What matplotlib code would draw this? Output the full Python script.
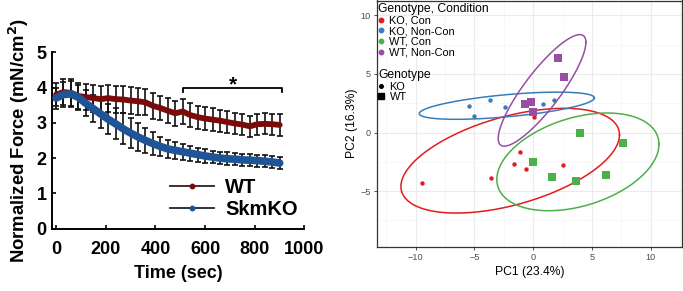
import numpy as np
import matplotlib
matplotlib.use("Agg")
import matplotlib.pyplot as plt
from matplotlib.lines import Line2D
from matplotlib.legend import Legend

# ---------------- Left panel data ----------------
time_sec = [0, 30, 60, 90, 120, 150, 180, 210, 240, 270, 300, 330, 360, 390, 420, 450,
            480, 510, 540, 570, 600, 630, 660, 690, 720, 750, 780, 810, 840, 870, 900]
wt_force = [3.80, 3.87, 3.85, 3.76, 3.73, 3.70, 3.67, 3.70, 3.67, 3.66, 3.63, 3.61, 3.58, 3.48,
            3.42, 3.34, 3.27, 3.32, 3.22, 3.16, 3.12, 3.09, 3.06, 3.02, 2.98, 2.95, 2.90, 2.96,
            2.97, 2.96, 2.94]
wt_err = [0.33, 0.36, 0.38, 0.38, 0.38, 0.38, 0.38, 0.38, 0.38, 0.38, 0.38, 0.38, 0.37, 0.36,
          0.35, 0.35, 0.35, 0.35, 0.34, 0.33, 0.32, 0.32, 0.31, 0.31, 0.30, 0.30, 0.30, 0.30,
          0.30, 0.30, 0.30]
ko_force = [3.70, 3.80, 3.82, 3.72, 3.55, 3.40, 3.25, 3.10, 2.97, 2.83, 2.71, 2.60, 2.50, 2.41,
            2.33, 2.26, 2.22, 2.18, 2.14, 2.10, 2.06, 2.03, 2.00, 1.98, 1.97, 1.95, 1.94, 1.93,
            1.91, 1.89, 1.86]
ko_err = [0.30, 0.35, 0.36, 0.36, 0.37, 0.38, 0.40, 0.42, 0.44, 0.44, 0.42, 0.40, 0.36, 0.32,
          0.28, 0.26, 0.24, 0.22, 0.21, 0.20, 0.19, 0.18, 0.18, 0.18, 0.17, 0.17, 0.17, 0.17,
          0.17, 0.17, 0.17]
sig_range = [512, 910]
sig_level = 4.0
series_labels = ["WT", "SkmKO"]
x_ticks_left = [0, 200, 400, 600, 800, 1000]
y_ticks_left = [0, 1, 2, 3, 4, 5]

# ---------------- Right panel data (PCA) ----------------
groups = ["KO, Con", "KO, Non-Con", "WT, Con", "WT, Non-Con"]
group_colors = ["#E41A1C", "#377EB8", "#4DAF4A", "#984EA3"]
ko_con_pc1 = [-9.5, -3.6, -1.6, -1.1, -0.6, 0.1, 2.5]
ko_con_pc2 = [-4.3, -3.9, -2.7, -1.7, -3.1, 1.3, -2.8]
ko_non_pc1 = [-5.5, -5.0, -3.7, -2.4, 0.8, 1.8]
ko_non_pc2 = [2.3, 1.4, 2.75, 2.2, 2.45, 2.75]
wt_con_pc1 = [0.0, 1.6, 3.6, 4.0, 6.2, 7.6]
wt_con_pc2 = [-2.5, -3.8, -4.1, 0.0, -3.6, -0.9]
wt_non_pc1 = [-0.7, -0.2, 0.0, 2.1, 2.6]
wt_non_pc2 = [2.4, 2.6, 1.75, 6.4, 4.7]
# 95% ellipse summaries: centre, half-extent in x / y,
# and y-offset of the right-most point from the centre (sets the tilt)
ell_cx = [-1.96, -2.25, 3.80, 0.75]
ell_cy = [-2.40, 2.29, -2.50, 3.60]
ell_hx = [9.30, 7.45, 6.90, 3.73]
ell_hy = [4.47, 1.16, 4.17, 4.76]
ell_dy = [2.20, 0.67, 1.50, 4.10]

plt.rcParams['font.family'] = ['Liberation Sans', 'DejaVu Sans']

fig = plt.figure(figsize=(6.83, 2.91), dpi=100)

# ================= Left panel =================
ax1 = fig.add_axes([52.3 / 683, 1 - 228.7 / 291, (304.5 - 52.3) / 683, (228.7 - 52.2) / 291])
wt_col = "#7B0A0A"
ko_col = "#1F5596"
ax1.errorbar(time_sec, wt_force, yerr=wt_err, fmt='none', ecolor='#111111', elinewidth=1.2,
             capsize=2.4, capthick=1.2, zorder=2)
ax1.errorbar(time_sec, ko_force, yerr=ko_err, fmt='none', ecolor='#111111', elinewidth=1.2,
             capsize=2.4, capthick=1.2, zorder=2)
ax1.plot(time_sec, wt_force, color=wt_col, lw=4.2, solid_capstyle='round', zorder=3)
ax1.plot(time_sec, ko_force, color=ko_col, lw=5.5, solid_capstyle='round', zorder=4)

h1 = Line2D([], [], color='#3a1a1a', lw=1.3, marker='o', markersize=3.2,
            markerfacecolor=wt_col, markeredgecolor=wt_col)
h2 = Line2D([], [], color='#1a2233', lw=1.3, marker='o', markersize=3.2,
            markerfacecolor=ko_col, markeredgecolor=ko_col)
leg = ax1.legend([h1, h2], series_labels, loc='center left',
                 bbox_to_anchor=((170 - 52.3) / 252.2, (228.7 - 198.4) / 176.5),
                 frameon=False, handlelength=2.2, handletextpad=0.55, labelspacing=0.15,
                 borderpad=0, borderaxespad=0,
                 prop={'weight': 'bold', 'size': 14.5})

ax1.plot([sig_range[0], sig_range[0], sig_range[1], sig_range[1]],
         [sig_level - 0.12, sig_level, sig_level, sig_level - 0.12], color='black', lw=1.3)
ax1.text((sig_range[0] + sig_range[1]) / 2, sig_level - 0.2, '*', ha='center', va='bottom',
         fontsize=15, fontweight='bold')

ax1.set_xlim(-15, 1000)
ax1.set_ylim(0, 5)
ax1.set_xticks(x_ticks_left)
ax1.set_yticks(y_ticks_left)
for s in ['top', 'right']:
    ax1.spines[s].set_visible(False)
for s in ['left', 'bottom']:
    ax1.spines[s].set_linewidth(1.4)
ax1.tick_params(direction='in', length=3, width=1.2, labelsize=13)
ax1.tick_params(axis='x', pad=9)
ax1.tick_params(axis='y', pad=4)
for lab in ax1.get_xticklabels() + ax1.get_yticklabels():
    lab.set_fontweight('bold')
ax1.set_xlabel('Time (sec)', fontsize=13, fontweight='bold', labelpad=5)
ax1.set_ylabel(r'Normalized Force (mN/cm$^\mathbf{2}$)', fontsize=13.3, fontweight='bold', labelpad=4)

# ================= Right panel =================
ax2 = fig.add_axes([377.3 / 683, 1 - 246.7 / 291, (682 - 377.3) / 683, (246.7 - 0.5) / 291])
ax2.set_xlim(-13.27, 12.66)
ax2.set_ylim(-9.74, 11.27)
ax2.set_facecolor('white')
ax2.set_xticks([-10, -5, 0, 5, 10])
ax2.set_yticks([-5, 0, 5, 10])
ax2.set_xticks([-12.5, -7.5, -2.5, 2.5, 7.5, 12.5], minor=True)
ax2.set_yticks([-7.5, -2.5, 2.5, 7.5], minor=True)
ax2.grid(which='major', color='#EBEBEB', lw=0.8)
ax2.grid(which='minor', color='#F4F4F4', lw=0.5)
ax2.set_axisbelow(True)
ax2.tick_params(which='minor', length=0)
ax2.tick_params(which='major', direction='out', length=2.5, width=0.6, color='#333333',
                labelsize=6.6, labelcolor='#4D4D4D', pad=2)
ax2.set_xticklabels(['\u221210', '\u22125', '0', '5', '10'])
ax2.set_yticklabels(['\u22125', '0', '5', '10'])
for s in ax2.spines.values():
    s.set_color('#333333')
    s.set_linewidth(0.9)
ax2.set_xlabel('PC1 (23.4%)', fontsize=8.7, labelpad=3)
ax2.set_ylabel('PC2 (16.3%)', fontsize=8.7, labelpad=2)

xs = [ko_con_pc1, ko_non_pc1, wt_con_pc1, wt_non_pc1]
ys = [ko_con_pc2, ko_non_pc2, wt_con_pc2, wt_non_pc2]
markers = ['o', 'o', 's', 's']
sizes = [10, 10, 32, 32]
theta = np.linspace(0, 2 * np.pi, 240)
circ = np.vstack([np.cos(theta), np.sin(theta)])
for i in range(4):
    hx, hy = ell_hx[i], ell_hy[i]
    sig = np.array([[hx ** 2, ell_dy[i] * hx], [ell_dy[i] * hx, hy ** 2]])
    ell = np.linalg.cholesky(sig) @ circ
    ax2.plot(ell[0] + ell_cx[i], ell[1] + ell_cy[i], color=group_colors[i], lw=1.1, zorder=2)
for x, y, c, m, sz in zip(xs, ys, group_colors, markers, sizes):
    ax2.scatter(x, y, s=sz, marker=m, color=c, linewidths=0, zorder=3)

h_groups = [Line2D([], [], ls='none', marker='o', markersize=3.2, color=c) for c in group_colors]
lg1 = Legend(ax2, h_groups, groups, loc='upper left', bbox_to_anchor=(-0.005, 0.998),
             frameon=False, title='Genotype, Condition', alignment='left',
             prop={'size': 7.9}, title_fontsize=8.7, handlelength=0.6, handletextpad=0.45,
             labelspacing=0.05, borderpad=0.2, borderaxespad=0)
ax2.add_artist(lg1)
h_geno = [Line2D([], [], ls='none', marker='o', markersize=2.6, color='black'),
          Line2D([], [], ls='none', marker='s', markersize=5, color='black')]
lg2 = Legend(ax2, h_geno, ['KO', 'WT'], loc='upper left', bbox_to_anchor=(-0.005, 0.73),
             frameon=False, title='Genotype', alignment='left',
             prop={'size': 7.9}, title_fontsize=8.7, handlelength=0.6, handletextpad=0.45,
             labelspacing=0.05, borderpad=0.2, borderaxespad=0)
ax2.add_artist(lg2)

fig.savefig('out.png', dpi=100)
